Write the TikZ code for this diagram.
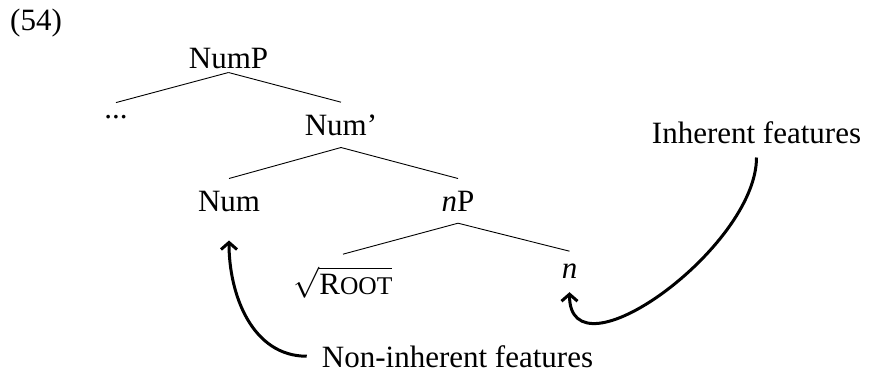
\RequirePackage{fix-cm}
\documentclass[tikz,border=0pt]{standalone}
\usepackage{fontspec}
\setmainfont{Liberation Serif}
\usetikzlibrary{arrows.meta}
\newcommand{\bigfont}{\fontsize{31}{37}\selectfont}
\newcommand{\rootsym}{\(\sqrt{\mbox{R\fontsize{25.5}{30}\selectfont OOT}}\)}
\tikzset{
  tn/.style={font=\bigfont, inner sep=0pt, anchor=base},
  edge/.style={line width=0.9pt},
  arr/.style={line width=3pt, -{Straight Barb[length=7pt,width=16pt]}},
}
\begin{document}
\begin{tikzpicture}[x=1pt,y=-1pt]
\useasboundingbox (0,0) rectangle (869,383);
\node[tn, anchor=base west] (ex) at (10,30) {(54)};
\node[tn] (numP) at (228.5,68) {NumP};
\node[tn] (dots) at (116,118) {...};
\node[tn] (numbar) at (341,135) {Num’};
\node[tn] (num) at (229,211) {Num};
\node[tn] (nP) at (458,211) {\textit{n}P};
\node[tn] (root) at (343,294) {\rootsym};
\node[tn] (n) at (569.5,278) {\textit{n}};
\node[tn] (inh) at (756.5,143) {Inherent features};
\node[tn] (non) at (457.5,367) {Non-inherent features};
\draw[edge] ([yshift=-4pt]numP.south) -- ([yshift=12pt]dots.north);
\draw[edge] ([yshift=-4pt]numP.south) -- ([yshift=12pt]numbar.north);
\draw[edge] ([yshift=-12pt]numbar.south) -- ([yshift=12pt]num.north);
\draw[edge] ([yshift=-12pt]numbar.south) -- ([yshift=12pt]nP.north);
\draw[edge] ([yshift=-12pt]nP.south) -- ([yshift=12pt]root.north);
\draw[edge] ([yshift=-12pt]nP.south) -- ([yshift=12pt]n.north);
\draw[arr] ([xshift=-15pt]non.west) to[out=180,in=-90] ([yshift=-29pt]num.south);
\draw[arr] ([yshift=-14pt]inh.south) to[out=-90,in=-90] ([yshift=-14pt]n.south);
\end{tikzpicture}
\end{document}
